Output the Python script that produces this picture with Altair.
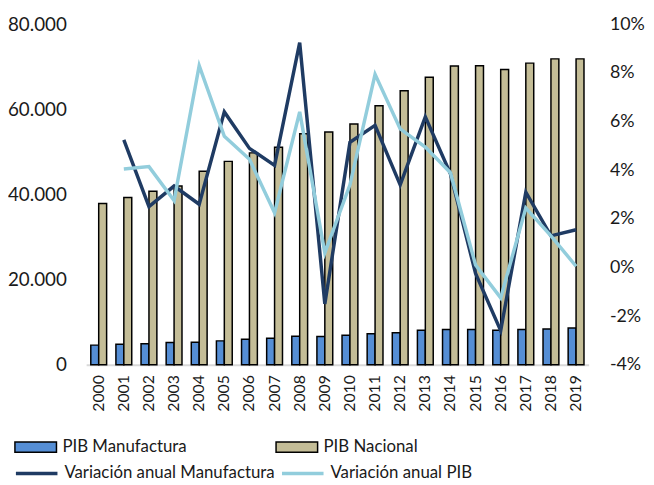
import altair as alt
import pandas as pd

years = [str(y) for y in range(2000, 2020)]
pib_manufactura = [4600, 4800, 4900, 5200, 5300, 5600, 6000, 6200, 6700, 6600,
                   6900, 7300, 7500, 8100, 8300, 8300, 8100, 8300, 8400, 8600]
pib_nacional = [37900, 39300, 40800, 42000, 45500, 47800, 49800, 51100, 54300, 54700,
                56600, 60900, 64400, 67600, 70200, 70300, 69400, 70900, 71900, 71900]
var_manufactura = [None, 5.25, 2.5, 3.35, 2.6, 6.4, 4.9, 4.2, 9.25, -1.5,
                   5.15, 5.85, 3.4, 6.2, 3.85, -0.25, -2.6, 3.1, 1.3, 1.55]
var_pib = [None, 4.05, 4.15, 2.75, 8.3, 5.4, 4.45, 2.25, 6.4, 0.6,
           3.4, 7.95, 5.7, 4.95, 3.9, 0.1, -1.25, 2.45, 1.3, 0.05]

bar_names = ["PIB Manufactura", "PIB Nacional"]
line_names = ["Variación anual Manufactura", "Variación anual PIB"]

bars = pd.DataFrame(
    [{"year": y, "serie": bar_names[0], "valor": v} for y, v in zip(years, pib_manufactura)]
    + [{"year": y, "serie": bar_names[1], "valor": v} for y, v in zip(years, pib_nacional)]
)
lines = pd.DataFrame(
    [{"year": y, "serie": line_names[0], "pct": v, "o": 0} for y, v in zip(years, var_manufactura) if v is not None]
    + [{"year": y, "serie": line_names[1], "pct": v, "o": 1} for y, v in zip(years, var_pib) if v is not None]
)

FONT = "Lato"

x_enc = alt.X("year:N", sort=years,
              scale=alt.Scale(paddingInner=0.37, paddingOuter=0.185),
              axis=alt.Axis(title=None, labelAngle=-90, labelFontSize=16, ticks=False,
                            domainColor="#d9d9d9", domainWidth=2, labelPadding=10,
                            grid=False))

bar_layer = alt.Chart(bars).mark_bar(stroke="black", strokeWidth=1.5).encode(
    x=x_enc,
    xOffset=alt.XOffset("serie:N", sort=bar_names, scale=alt.Scale(paddingInner=0, paddingOuter=0)),
    y=alt.Y("valor:Q", scale=alt.Scale(domain=[0, 80000], nice=False),
            axis=alt.Axis(title=None, values=[0, 20000, 40000, 60000, 80000],
                          labelExpr="replace(format(datum.value, ','), ',', '.')",
                          domain=False, ticks=False, grid=False,
                          labelFontSize=19, labelPadding=20)),
    fill=alt.Fill("serie:N", sort=bar_names,
                  scale=alt.Scale(domain=bar_names, range=["#558ed5", "#c4bd97"]),
                  legend=alt.Legend(title=None, orient="none", legendX=-73, legendY=405,
                                    direction="horizontal", columns=2,
                                    symbolType="M-1,-0.25L1,-0.25L1,0.25L-1,0.25Z",
                                    symbolSize=1764, symbolStrokeColor="black",
                                    symbolStrokeWidth=1.5, labelFontSize=17,
                                    labelFont=FONT, labelColor="#1a1a1a", labelLimit=400,
                                    labelOffset=5, columnPadding=87, padding=0)),
)

line_layer = alt.Chart(lines).mark_line(strokeWidth=3.5).encode(
    x=x_enc,
    y=alt.Y("pct:Q", scale=alt.Scale(domain=[-4, 10], nice=False),
            axis=alt.Axis(title=None, orient="right", values=[-4, -2, 0, 2, 4, 6, 8, 10],
                          labelExpr="datum.value + '%'",
                          domain=False, ticks=False, grid=False,
                          labelFontSize=18, labelPadding=21)),
    stroke=alt.Stroke("serie:N", sort=line_names,
                      scale=alt.Scale(domain=line_names, range=["#1f3b63", "#92cddc"]),
                      legend=alt.Legend(title=None, orient="none", legendX=-73, legendY=431,
                                        direction="horizontal", columns=2,
                                        symbolType="stroke", symbolSize=1764,
                                        symbolStrokeWidth=3.5, labelFontSize=17,
                                        labelFont=FONT, labelColor="#1a1a1a", labelLimit=400,
                                        labelOffset=5, columnPadding=0, padding=0)),
    order=alt.Order("o:Q"),
)

chart = alt.layer(bar_layer, line_layer).resolve_scale(
    y="independent", fill="independent", stroke="independent"
).properties(
    width=508, height=344,
    padding={"left": 79, "top": 14, "right": 58, "bottom": 116},
    autosize="none",
).configure_axis(
    labelFont=FONT, labelColor="#1a1a1a"
).configure_view(stroke=None)

chart.save("out.html", embed_options={"renderer": "svg", "actions": False})
